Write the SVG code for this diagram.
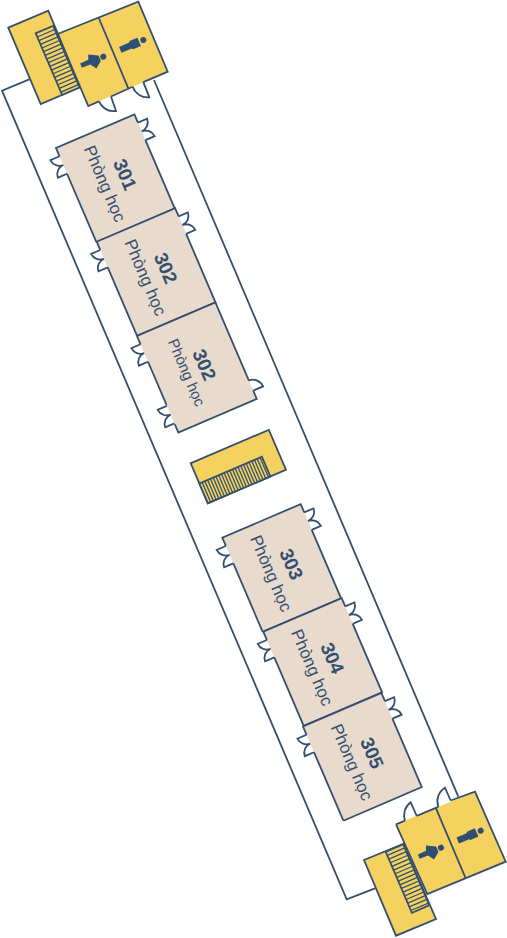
<svg xmlns="http://www.w3.org/2000/svg" xmlns:xlink="http://www.w3.org/1999/xlink" width="507" height="938" viewBox="0 0 507 938">
<style>
.w{fill:none;stroke:#34506f;stroke-width:1.8;stroke-linejoin:miter}
.y{fill:#f5d160;stroke:none}
.ys{fill:#f5d160;stroke:#34506f;stroke-width:1.8}
.b{fill:#e8dacd;stroke:none}
.t{stroke:#34506f;stroke-width:1.3;fill:none}
.i{fill:#2f4e73;stroke:none}
.n{font-family:"Liberation Sans",Arial,sans-serif;font-weight:700;font-size:19px;fill:#34506f;text-anchor:middle}
.l{font-family:"Liberation Sans",Arial,sans-serif;font-size:17px;fill:#34506f;text-anchor:middle}
</style>
<defs>
<path id="d2" class="w" d="M0 0H10A10 10 0 0 1 0 9.5A10 10 0 0 1 10 19H0"/>
<g id="room">
<rect class="b" width="85.3" height="102.5"/>
<path class="w" d="M0 102.5H85.3V28M85.3 9V0H0V9M0 28V102.5"/>
<use xlink:href="#d2" href="#d2" transform="translate(85.3 9)"/>
<use xlink:href="#d2" href="#d2" transform="translate(0 9) scale(-1 1)"/>
</g>
<path id="treads" class="t" d="M0 4H19M0 8H19M0 12H19M0 16H19M0 20H19M0 24H19M0 28H19M0 32H19M0 36H19M0 40H19M0 44H19M0 48H19M0 52H19M0 56H19M0 60H19M0 64H19"/>
<g id="woman" class="i"><circle r="3"/><path d="M-4 -3L-13 -8L-15 -3L-24 -2.8V1.8L-15 2L-11 8L-4 3Z"/></g>
<g id="man" class="i"><circle r="3"/><path d="M-4.5 -4.5H-13L-14 -3.2H-25V3.2H-14L-13 4.5H-4.5Z"/></g>
</defs>
<g id="connectors">
<path class="w" d="M29.3 79.3L2 90.7L346.7 899.3L375 888.3M154 80L458.3 796.7"/>
</g>
<g id="wc-top">
<polygon class="y" points="57.5,34 138.3,1.7 167.7,71.7 88.3,106"/>
<path class="w" d="M57.5 34L138.3 1.7L167.7 71.7L143.3 82.2M132.7 86.8L111 96.5M99 101.4L88.3 106L57.5 34M99 18.5L128.3 88.3"/>
<path class="w" d="M99 101.4A16 16 0 0 0 116 111L111 96.5M132.7 86.8A16 16 0 0 0 149.3 97.3L143.3 82.2"/>
<use xlink:href="#woman" href="#woman" transform="translate(103.3 56.7) rotate(-23.2)"/>
<use xlink:href="#man" href="#man" transform="translate(143.3 40) rotate(-23.2)"/>
</g>
<g id="stair-top">
<polygon class="ys" points="8.3,27.7 48.3,10.7 80,87.3 40.7,104"/>
<g transform="translate(35.7 33.3) rotate(-23.2)"><rect class="ys" width="19" height="67"/><use xlink:href="#treads" href="#treads"/></g>
</g>
<g id="room-301" transform="translate(56 148) rotate(-23.2)">
<use xlink:href="#room" href="#room"/>
<text class="n" transform="translate(46.5 51.5) rotate(90)">301</text>
<text class="l" transform="translate(25 52) rotate(90)">Phòng học</text>
</g>
<g id="room-302a" transform="translate(96.7 241.7) rotate(-23.2)">
<use xlink:href="#room" href="#room"/>
<text class="n" transform="translate(46.5 51.5) rotate(90)">302</text>
<text class="l" transform="translate(25 52) rotate(90)">Phòng học</text>
</g>
<g id="room-302b" transform="translate(137 336) rotate(-23.2)">
<rect class="b" width="85.3" height="105"/>
<path class="w" d="M0 9V0H85.3V85M85.3 96V105H0V96M0 75V28"/>
<use xlink:href="#d2" href="#d2" transform="translate(0 9) scale(-1 1)"/>
<use xlink:href="#d2" href="#d2" transform="translate(0 76) scale(-1 1)"/>
<path class="w" d="M85.3 85A11 11 0 0 1 96 96H85.3"/>
<text class="n" transform="translate(44 53) rotate(90)">302</text>
<text class="l" style="font-size:15px" transform="translate(26 53) rotate(90)">Phòng học</text>
</g>
<g id="stair-center" transform="translate(190.7 463.3) rotate(-23.2)">
<rect class="ys" width="85" height="43.5"/>
<rect class="ys" y="22" width="68" height="21.5"/>
<path class="t" d="M3 22V43.5M6 22V43.5M9 22V43.5M12 22V43.5M15 22V43.5M18 22V43.5M21 22V43.5M24 22V43.5M27 22V43.5M30 22V43.5M33 22V43.5M36 22V43.5M39 22V43.5M42 22V43.5M45 22V43.5M48 22V43.5M51 22V43.5M54 22V43.5M57 22V43.5M60 22V43.5M63 22V43.5M66 22V43.5"/>
</g>
<g id="room-303" transform="translate(222.3 537.7) rotate(-23.2)">
<use xlink:href="#room" href="#room"/>
<text class="n" transform="translate(46.5 51.5) rotate(90)">303</text>
<text class="l" transform="translate(25 52) rotate(90)">Phòng học</text>
</g>
<g id="room-304" transform="translate(263.3 631.7) rotate(-23.2)">
<use xlink:href="#room" href="#room"/>
<text class="n" transform="translate(46.5 51.5) rotate(90)">304</text>
<text class="l" transform="translate(25 52) rotate(90)">Phòng học</text>
</g>
<g id="room-305" transform="translate(303 726.5) rotate(-23.2)">
<use xlink:href="#room" href="#room"/>
<text class="n" transform="translate(46.5 51.5) rotate(90)">305</text>
<text class="l" transform="translate(25 52) rotate(90)">Phòng học</text>
</g>
<g id="wc-bottom">
<polygon class="y" points="396,824.3 475,791.7 505.7,861.7 427.3,894"/>
<path class="w" d="M396 824.3L405 820.6M416.7 815.8L438.3 806.8M450.7 800.5L475 791.7L505.7 861.7L427.3 894L396 824.3M436 808.3L465.7 878.3"/>
<path class="w" d="M405 820.6A16 16 0 0 1 410.7 802.3L416.7 815.8M438.3 806.8A16 16 0 0 1 445 787.7L450.7 800.5"/>
<use xlink:href="#woman" href="#woman" transform="translate(441 847.7) rotate(-23.2)"/>
<use xlink:href="#man" href="#man" transform="translate(480.7 830.7) rotate(-23.2)"/>
</g>
<g id="stair-bottom">
<polygon class="ys" points="364,860 403.3,844 436,919 396,935.7"/>
<g transform="translate(385.7 851.7) rotate(-23.2)"><rect class="ys" width="19" height="66.5"/><use xlink:href="#treads" href="#treads"/></g>
</g>
</svg>
